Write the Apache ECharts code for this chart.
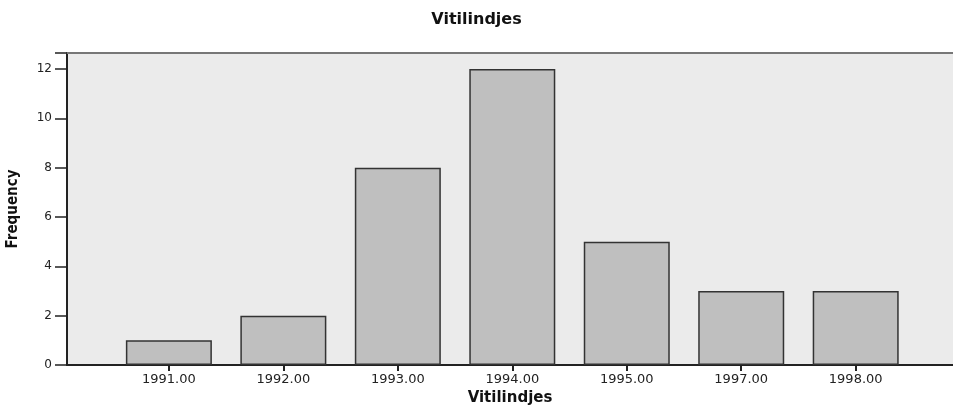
<!DOCTYPE html>
<html>
<head>
<meta charset="utf-8">
<script src="https://cdn.jsdelivr.net/npm/echarts@6/dist/echarts.min.js"></script>
<style>html,body{margin:0;padding:0;background:#fff;}#c{width:953px;height:408px;}</style>
</head>
<body>
<div id="c"></div>
<script>
const categories = ['1991.00', '1992.00', '1993.00', '1994.00', '1995.00', '1997.00', '1998.00'];
const frequency = [1, 2, 8, 12, 5, 3, 3];
const yTicks = [0, 2, 4, 6, 8, 10, 12];

const positions = categories.map((c, i) => i);
const barData = frequency.map((v, i) => [positions[i], v]);

const chart = echarts.init(document.getElementById('c'));
chart.setOption({
  animation: false,
  backgroundColor: '#ffffff',
  title: {
    text: 'Vitilindjes',
    left: 'center',
    top: 7,
    textStyle: { fontFamily: 'DejaVu Sans', fontWeight: 'bold', fontSize: 16, color: '#111' }
  },
  grid: {
    left: 67, right: 0, top: 53, bottom: 43,
    containLabel: false,
    outerBoundsMode: 'none',
    show: true, backgroundColor: '#ebebeb', borderWidth: 0
  },
  xAxis: [{
    type: 'value',
    min: -0.89,
    max: 6.85,
    name: 'Vitilindjes',
    nameLocation: 'middle',
    nameGap: 26,
    nameTextStyle: { fontFamily: 'DejaVu Sans', fontWeight: 'bold', fontSize: 15, color: '#111' },
    splitLine: { show: false },
    axisLine: { show: true, onZero: false, lineStyle: { color: '#222', width: 2 } },
    axisTick: { show: true, customValues: positions, length: 6, lineStyle: { color: '#222', width: 2 } },
    axisLabel: {
      customValues: positions,
      formatter: v => categories[Math.round(v)] || '',
      fontFamily: 'DejaVu Sans', fontSize: 13, color: '#222', margin: 8
    }
  }, {
    type: 'value',
    position: 'top',
    min: -0.89,
    max: 6.85,
    splitLine: { show: false },
    axisLine: { show: true, onZero: false, lineStyle: { color: '#777', width: 2 } },
    axisTick: { show: false },
    axisLabel: { show: false }
  }],
  yAxis: {
    type: 'value',
    min: 0,
    max: 12.65,
    interval: 2,
    name: 'Frequency',
    nameLocation: 'middle',
    nameGap: 46,
    nameRotate: 90,
    nameTextStyle: { fontFamily: "'DejaVu Sans Condensed', 'Liberation Sans', sans-serif", fontWeight: 'bold', fontSize: 15, color: '#111' },
    splitLine: { show: false },
    axisLine: { show: true, onZero: false, lineStyle: { color: '#222', width: 2 } },
    axisTick: { show: true, length: 12, lineStyle: { color: '#222', width: 1.5 } },
    axisLabel: {
      customValues: yTicks,
      formatter: v => (yTicks.indexOf(v) >= 0 ? String(v) : ''),
      fontFamily: 'DejaVu Sans', fontSize: 12, color: '#222', margin: 15
    }
  },
  series: [{
    type: 'bar',
    xAxisIndex: 0,
    data: barData,
    barWidth: 86,
    itemStyle: { color: '#bfbfbf', borderColor: '#333333', borderWidth: 1.5 }
  }]
});
</script>
</body>
</html>
